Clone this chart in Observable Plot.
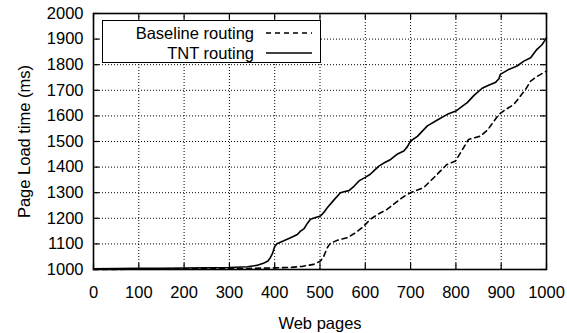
<!DOCTYPE html>
<html>
<head>
<meta charset="utf-8">
<script src="https://cdn.jsdelivr.net/npm/d3@7"></script>
<script src="https://cdn.jsdelivr.net/npm/@observablehq/plot@0.6"></script>
<style>
  html, body { margin: 0; padding: 0; background: #fff; }
  #wrap { position: relative; width: 567px; height: 333px; font-family: "Liberation Sans", Arial, Helvetica, sans-serif; }
  #legend { position: absolute; left: 102px; top: 20px; width: 217px; height: 41px; background: #fff; border: 1px solid #000; box-sizing: content-box; font-size: 16.5px; }
  .row { position: absolute; left: 0; width: 217px; height: 20px; }
  .row span { position: absolute; right: 66px; top: 0; line-height: 20px; white-space: nowrap; }
  .row svg { position: absolute; left: 162px; top: 0; }
</style>
</head>
<body>
<div id="wrap"></div>
<script>
// Data
const xTicks = [0, 100, 200, 300, 400, 500, 600, 700, 800, 900, 1000];
const yTicks = [1000, 1100, 1200, 1300, 1400, 1500, 1600, 1700, 1800, 1900, 2000];
const xLabel = "Web pages";
const yLabel = "Page Load time (ms)";

const tntPages = [0, 50, 100, 150, 200, 250, 300, 340, 360, 375, 385, 390, 395, 400, 405, 420, 435, 450, 457, 465, 472, 479, 490, 501, 508, 516, 530, 545, 555, 564, 575, 586, 600, 611, 620, 630, 643, 656, 670, 685, 693, 700, 715, 737, 760, 781, 800, 810, 825, 840, 858, 872, 887, 895, 898, 915, 935, 950, 965, 979, 990, 1000];
const tntTime  = [1003, 1004, 1005, 1005, 1006, 1007, 1008, 1011, 1016, 1024, 1033, 1045, 1062, 1090, 1101, 1112, 1124, 1137, 1150, 1160, 1180, 1196, 1203, 1209, 1222, 1241, 1270, 1300, 1305, 1308, 1325, 1346, 1360, 1372, 1387, 1404, 1418, 1430, 1450, 1463, 1480, 1502, 1520, 1561, 1585, 1606, 1619, 1632, 1652, 1680, 1708, 1720, 1730, 1745, 1762, 1780, 1795, 1814, 1827, 1860, 1878, 1905];

const basePages = [0, 100, 200, 300, 340, 413, 435, 460, 486, 501, 508, 516, 523, 540, 560, 580, 597, 611, 630, 648, 670, 685, 700, 729, 744, 766, 780, 799, 815, 828, 854, 870, 895, 910, 928, 940, 954, 965, 980, 1000];
const baseTime  = [1000, 1001, 1002, 1004, 1004, 1007, 1008, 1012, 1020, 1033, 1050, 1085, 1103, 1115, 1124, 1145, 1170, 1196, 1218, 1235, 1265, 1285, 1300, 1320, 1346, 1385, 1410, 1424, 1470, 1508, 1521, 1545, 1606, 1625, 1645, 1672, 1704, 1736, 1755, 1775];

const seriesNames = ["Baseline routing", "TNT routing"];

const tnt = tntPages.map((p, i) => ({page: p, time: tntTime[i]}));
const base = basePages.map((p, i) => ({page: p, time: baseTime[i]}));

const W = 567, H = 333, mL = 93, mR = 21, mT = 13, mB = 64, tick = 6;
const frameW = W - mL - mR, frameH = H - mT - mB;

const gridStyle = {stroke: "#000", strokeOpacity: 1, strokeWidth: 1, strokeDasharray: "1,2"};
const tickStyle = {stroke: "#000", strokeWidth: 1.2};

const chart = Plot.plot({
  width: W,
  height: H,
  marginLeft: mL,
  marginRight: mR,
  marginTop: mT,
  marginBottom: mB,
  style: {fontFamily: '"Liberation Sans", Arial, Helvetica, sans-serif', fontSize: "16.5px", background: "#fff", color: "#000"},
  x: {domain: [0, 1000]},
  y: {domain: [1000, 2000]},
  marks: [
    Plot.gridX(xTicks.slice(1, -1), gridStyle),
    Plot.gridY(yTicks.slice(1, -1), gridStyle),
    // inward tick marks on all four sides
    Plot.ruleX(xTicks, {...tickStyle, insetTop: frameH - tick}),
    Plot.ruleX(xTicks, {...tickStyle, insetBottom: frameH - tick}),
    Plot.ruleY(yTicks, {...tickStyle, insetRight: frameW - tick}),
    Plot.ruleY(yTicks, {...tickStyle, insetLeft: frameW - tick}),
    Plot.axisX(xTicks, {anchor: "bottom", tickSize: 0, tickPadding: 17, tickFormat: d => String(d), label: null}),
    Plot.axisY(yTicks, {anchor: "left", tickSize: 0, tickPadding: 10, tickFormat: d => String(d), label: null}),
    Plot.text([xLabel], {text: d => d, frameAnchor: "bottom", dy: 59, lineAnchor: "bottom", textAnchor: "middle", fill: "#000"}),
    Plot.text([yLabel], {text: d => d, frameAnchor: "left", rotate: -90, dx: -75, lineAnchor: "top", textAnchor: "middle", fill: "#000"}),
    Plot.line(base, {x: "page", y: "time", stroke: "#000", strokeWidth: 1.6, strokeDasharray: "5,4", curve: "linear"}),
    Plot.line(tnt, {x: "page", y: "time", stroke: "#000", strokeWidth: 1.6, curve: "linear"}),
    Plot.frame({stroke: "#000", strokeWidth: 1.6})
  ]
});

const wrap = document.getElementById("wrap");
wrap.appendChild(chart);

// Legend
const legend = document.createElement("div");
legend.id = "legend";
const dashes = ["5,4", null];
seriesNames.forEach((name, i) => {
  const row = document.createElement("div");
  row.className = "row";
  row.style.top = (i === 0 ? 2 : 22) + "px";
  row.innerHTML = `<span>${name}</span><svg width="48" height="20"><line x1="1" x2="47" y1="10" y2="10" stroke="#000" stroke-width="1.6" ${dashes[i] ? `stroke-dasharray="${dashes[i]}"` : ""}/></svg>`;
  legend.appendChild(row);
});
wrap.appendChild(legend);
</script>
</body>
</html>
